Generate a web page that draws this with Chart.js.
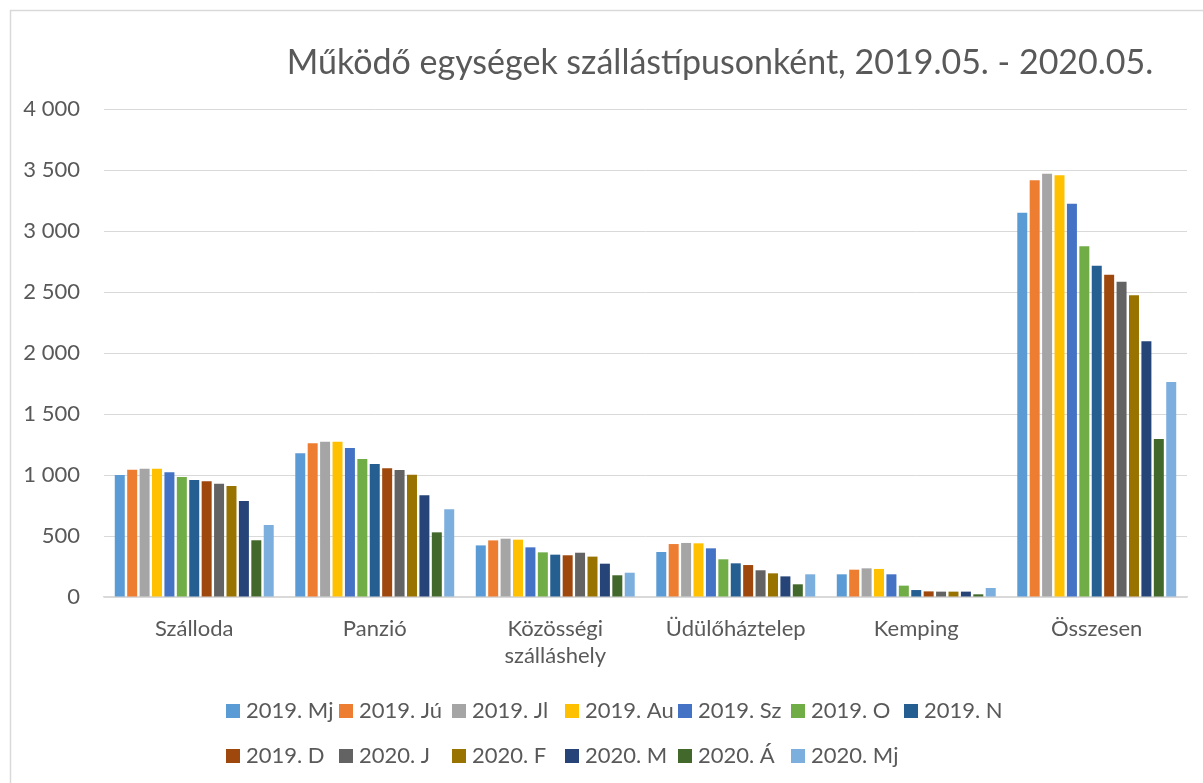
<!DOCTYPE html>
<html lang="hu">
<head>
<meta charset="utf-8">
<title>Működő egységek szállástípusonként</title>
<script src="https://cdn.jsdelivr.net/npm/chart.js@4/dist/chart.umd.min.js"></script>
<style>
    body { margin: 0; background: #ffffff; }
</style>
</head>
<body>
<canvas id="grafico-szallas" width="1203" height="783"></canvas>
<script>
// Kategóriák (szállástípusok)
const kategoriak = ['Szálloda', 'Panzió', ['Közösségi', 'szálláshely'], 'Üdülőháztelep', 'Kemping', 'Összesen'];

// Hónapok (sorozatok nevei)
const honapok = ['2019. Mj', '2019. Jú', '2019. Jl', '2019. Au', '2019. Sz', '2019. O', '2019. N',
    '2019. D', '2020. J', '2020. F', '2020. M', '2020. Á', '2020. Mj'];

// Értékek hónaponként, a kategóriák sorrendjében
const majus2019 = [1000, 1178, 423, 369, 186, 3150];
const junius2019 = [1043, 1260, 464, 434, 224, 3415];
const julius2019 = [1052, 1273, 478, 443, 235, 3470];
const augusztus2019 = [1052, 1273, 470, 440, 230, 3456];
const szeptember2019 = [1022, 1221, 407, 399, 186, 3224];
const oktober2019 = [983, 1131, 366, 309, 93, 2874];
const november2019 = [959, 1090, 347, 276, 57, 2716];
const december2019 = [948, 1055, 342, 262, 46, 2642];
const januar2020 = [929, 1041, 363, 219, 44, 2585];
const februar2020 = [910, 1002, 331, 194, 44, 2473];
const marcius2020 = [787, 833, 273, 169, 44, 2096];
const aprilis2020 = [465, 530, 178, 104, 22, 1295];
const majus2020 = [590, 719, 199, 186, 74, 1762];

// Y tengely
const yMin = 0;
const yMax = 4000;
const yLepes = 500;

const sorozatok = [majus2019, junius2019, julius2019, augusztus2019, szeptember2019, oktober2019,
    november2019, december2019, januar2020, februar2020, marcius2020, aprilis2020, majus2020];

const szinek = ['#5B9BD5', '#ED7D31', '#A5A5A5', '#FFC000', '#4472C4', '#70AD47', '#255E91',
    '#9E480E', '#636363', '#997300', '#264478', '#43682B', '#7CAFDD'];

const szovegSzin = '#595959';
const betu = 'Lato';

function ezresTagolas(ertek) {
    return String(ertek).replace(/\B(?=(\d{3})+(?!\d))/g, ' ');
}

// keret, cím helye és jelmagyarázat rácsban (mint az Excelben)
const excelStilus = {
    id: 'excelStilus',
    beforeDraw(chart) {
        const ctx = chart.ctx;
        ctx.save();
        ctx.fillStyle = '#ffffff';
        ctx.fillRect(0, 0, chart.width, chart.height);
        ctx.strokeStyle = '#d9d9d9';
        ctx.lineWidth = 1.5;
        ctx.strokeRect(10.5, 10.5, chart.width, chart.height);
        ctx.restore();
    },
    afterLayout(chart) {
        const cim = chart.titleBlock;
        if (cim) {
            cim.left = 220;
            cim.right = 1220;
        }
    },
    afterDraw(chart) {
        const ctx = chart.ctx;
        ctx.save();
        ctx.font = '22px ' + betu;
        ctx.textBaseline = 'middle';
        ctx.textAlign = 'left';
        chart.data.datasets.forEach(function (ds, i) {
            const sor = Math.floor(i / 7);
            const oszlop = i % 7;
            const x = 226 + oszlop * 113;
            const y = 711 + sor * 45;
            ctx.fillStyle = ds.backgroundColor;
            ctx.fillRect(x, y - 7, 14, 14);
            ctx.fillStyle = szovegSzin;
            ctx.fillText(ds.label, x + 20, y);
        });
        ctx.restore();
    }
};

var ctx = document.getElementById('grafico-szallas').getContext('2d');
var graficoSzallas = new Chart(ctx, {
    type: 'bar',
    data: {
        labels: kategoriak,
        datasets: sorozatok.map(function (adat, i) {
            return {
                label: honapok[i],
                data: adat,
                backgroundColor: szinek[i],
                borderWidth: 0,
                categoryPercentage: 0.894,
                barPercentage: 0.805
            };
        })
    },
    options: {
        responsive: false,
        animation: false,
        layout: {
            padding: { left: 10, right: 16, top: 10, bottom: 10 }
        },
        plugins: {
            legend: { display: false },
            tooltip: { enabled: false },
            title: {
                display: true,
                text: 'Működő egységek szállástípusonként, 2019.05. - 2020.05.',
                color: szovegSzin,
                font: { size: 34, family: betu, weight: 'normal', lineHeight: 1.2 },
                padding: { top: 33, bottom: 25.2 }
            }
        },
        scales: {
            x: {
                grid: { display: false, drawTicks: false },
                border: { color: '#d9d9d9', width: 1.5 },
                ticks: {
                    color: szovegSzin,
                    font: { size: 22, family: betu, lineHeight: 1.25 },
                    padding: 18,
                    maxRotation: 0,
                    autoSkip: false
                },
                afterFit: function (scale) { scale.height = 176; }
            },
            y: {
                min: yMin,
                max: yMax,
                grid: { color: '#d9d9d9', lineWidth: 1, drawTicks: false },
                border: { display: false },
                ticks: {
                    stepSize: yLepes,
                    color: szovegSzin,
                    font: { size: 22, family: betu },
                    padding: 24,
                    callback: function (ertek) { return ezresTagolas(ertek); }
                },
                afterFit: function (scale) { scale.width = 94; }
            }
        }
    },
    plugins: [excelStilus]
});
</script>
</body>
</html>
